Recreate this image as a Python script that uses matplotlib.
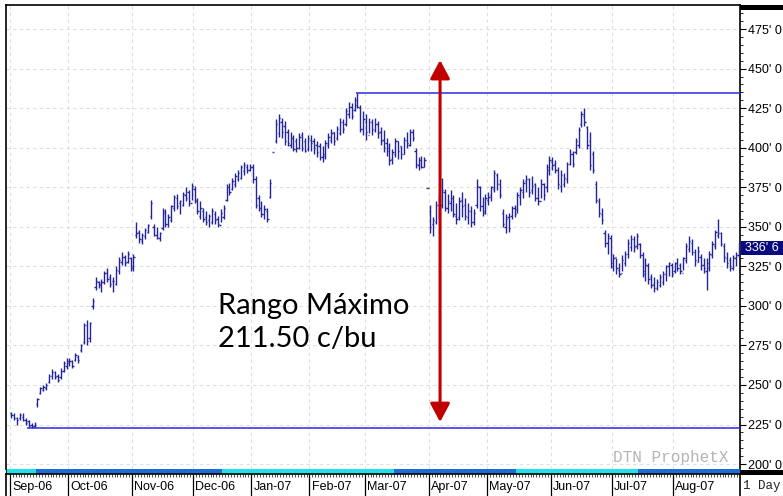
import matplotlib
matplotlib.use("Agg")
import matplotlib.pyplot as plt
import numpy as np
import pandas as pd
from matplotlib.patches import FancyArrowPatch, Rectangle

plt.rcParams['font.family'] = ['Liberation Sans', 'DejaVu Sans']

# trading days Sep-06 .. Aug-07 (exchange holidays removed)
holidays = ['2006-09-04', '2006-11-23', '2006-12-25', '2007-01-01', '2007-01-02',
            '2007-01-15', '2007-02-19', '2007-04-06', '2007-05-28', '2007-07-04']
days = pd.bdate_range('2006-09-01', '2007-08-31')
days = days[~days.isin(pd.to_datetime(holidays))]

# daily bars, c/bu, one row per month
high = [233, 232, 230, 232, 232, 229, 228, 226, 226.5, 242, 249, 250, 251, 257, 260, 259, 257, 261, 265, 267,
        267, 266, 270, 269, 276, 289, 291, 290, 305, 318, 316, 317, 322, 324, 320, 318, 325, 331, 334, 332, 335, 331,
        333, 353, 348, 346, 349, 352, 367, 352, 350, 347, 362, 361, 358, 364, 370, 371, 367, 372, 375, 373, 378,
        376, 368, 366, 362, 360, 358, 362, 360, 357, 361, 364, 377, 378, 381, 384, 386, 389, 391, 390, 390,
        390, 382, 370, 366, 364, 362, 380, 397.5, 418, 421, 419, 417, 412, 410, 408, 406, 409, 410, 406, 408,
        408, 406, 404, 403, 401, 405, 409, 412, 410, 414, 419, 418, 425, 429, 428, 432, 434.5, 427, 423,
        421, 419, 418, 419, 417, 413, 411, 406, 403, 399, 406, 404, 401, 407, 410, 412, 412, 400, 394, 395, 394, 374.75,
        364, 356, 366, 370, 381, 374, 371, 373, 370, 365, 369, 372, 368, 365, 363, 361, 380, 376, 369, 371,
        372, 376, 386, 384, 380, 361, 358, 359, 363, 364, 372, 375, 380, 383, 381, 382, 378, 375, 380, 378, 390, 395,
        394, 392, 388, 386, 384, 391, 399, 398, 406, 413, 423, 425, 414, 410, 398, 379, 368, 362, 348, 346, 345,
        333, 330, 327, 332, 335, 342, 345, 344, 346, 340, 334, 330, 327, 320, 318, 317, 320, 322, 326, 328, 327,
        328, 330, 327, 331, 340, 344, 342, 336, 338, 333, 330, 330, 335, 341, 348, 355, 347, 340, 334, 331, 332, 334, 340]
low = [229, 228, 225, 228, 227, 225, 223.5, 223, 223.2, 236, 244, 246, 247, 251, 254, 254, 252, 254, 258, 260,
       262, 261, 265, 264, 271, 276, 275, 277, 298, 310, 311, 309, 314, 315, 312, 309, 313, 320, 326, 325, 327, 322,
       322, 343, 340, 339, 342, 346, 355, 344, 342, 341, 348, 350, 350, 353, 360, 361, 358, 363, 366, 363, 367,
       365, 358, 355, 353, 351, 350, 352, 352, 350, 353, 355, 366, 370, 373, 375, 379, 380, 383, 384, 385,
       378, 362, 360, 356, 355, 353, 368, 397.0, 403, 407, 406, 402, 401, 400, 398, 397, 399, 398, 397, 398,
       398, 396, 394, 392, 391, 393, 400, 403, 402, 405, 408, 409, 414, 419, 418, 423, 425, 410, 408,
       405, 409, 408, 410, 406, 402, 397, 395, 389, 390, 394, 393, 393, 396, 400, 401, 404, 387, 386, 387, 388, 374.25,
       346, 344, 352, 355, 362, 360, 359, 360, 356, 352, 354, 356, 354, 352, 350, 351, 362, 360, 357, 358,
       364, 366, 372, 373, 368, 350, 346, 347, 355, 356, 359, 364, 368, 372, 369, 371, 366, 364, 368, 367, 372, 383,
       386, 384, 374, 372, 375, 378, 389, 388, 396, 400, 413, 414, 399, 386, 384, 365, 356, 352, 337, 333, 324,
       322, 320, 318, 322, 325, 330, 335, 334, 336, 330, 318, 316, 314, 311, 309, 310, 312, 313, 316, 319, 318,
       321, 322, 320, 323, 327, 334, 332, 325, 328, 323, 321, 310, 322, 330, 336, 343, 338, 328, 324, 322, 323, 325, 331]
opn = [232, 231, 229, 229, 230, 228, 227, 225, 224, 238, 245, 247, 248, 252, 256, 258, 256, 255, 259, 262,
       264, 265, 266, 268, 272, 277, 288, 280, 300, 312, 315, 314, 315, 321, 318, 316, 314, 322, 328, 331, 328, 330,
       325, 345, 347, 341, 344, 347, 357, 350, 345, 343, 349, 359, 352, 354, 362, 368, 365, 364, 370, 372, 365,
       374, 366, 357, 360, 356, 354, 353, 358, 355, 351, 356, 367, 375, 374, 377, 380, 381, 385, 388, 386,
       388, 380, 368, 362, 358, 360, 369, 397.25, 404, 409, 416, 414, 410, 402, 406, 404, 400, 408, 404, 399,
       405, 404, 402, 401, 394, 395, 402, 405, 410, 406, 409, 416, 415, 421, 426, 424, 427, 425, 412,
       416, 408, 416, 411, 415, 410, 405, 403, 400, 393, 396, 404, 401, 396, 405, 402, 410, 398, 389, 392, 388, 374.5,
       360, 352, 353, 364, 364, 372, 362, 365, 368, 357, 356, 367, 364, 356, 360, 353, 364, 375, 363, 359,
       367, 370, 374, 383, 377, 359, 350, 356, 357, 362, 361, 369, 372, 379, 380, 373, 377, 368, 366, 377, 375, 386,
       391, 390, 386, 376, 377, 380, 390, 396, 397, 402, 415, 420, 413, 404, 396, 377, 366, 358, 346, 340, 343,
       325, 331, 323, 321, 327, 333, 337, 342, 338, 339, 332, 322, 325, 318, 314, 311, 313, 315, 320, 325, 326,
       322, 327, 326, 321, 329, 336, 340, 334, 328, 331, 326, 322, 324, 332, 338, 345, 346, 338, 330, 329, 324, 330, 332]
close = [231, 229, 228, 231, 228, 226, 224, 224, 225, 241, 248, 249, 250, 256, 258, 255, 253, 259, 264, 265,
         265, 262, 269, 266, 275, 288, 278, 289, 303, 316, 313, 315, 321, 317, 314, 316, 323, 329, 331, 327, 333, 324,
         331, 346, 342, 345, 348, 351, 365, 345, 343, 346, 360, 352, 356, 363, 369, 363, 366, 371, 368, 366, 376,
         367, 360, 362, 355, 353, 357, 360, 354, 352, 359, 362, 375, 372, 379, 382, 384, 388, 389, 386, 388,
         380, 364, 362, 358, 361, 355, 378, 397.25, 415, 419, 410, 404, 403, 406, 399, 400, 407, 400, 398, 406,
         403, 400, 397, 394, 396, 403, 407, 409, 404, 412, 416, 412, 423, 426, 420, 430, 426, 412, 418,
         410, 416, 412, 415, 409, 404, 400, 398, 392, 397, 404, 398, 396, 405, 403, 410, 406, 390, 392, 388, 392, 374.5,
         350, 354, 364, 362, 373, 362, 366, 368, 358, 355, 366, 363, 357, 360, 353, 359, 376, 363, 360, 368,
         369, 375, 384, 377, 370, 352, 355, 349, 362, 358, 370, 373, 378, 380, 372, 376, 368, 366, 377, 370, 388, 392,
         389, 386, 377, 383, 381, 390, 396, 390, 404, 411, 421, 416, 402, 389, 386, 367, 359, 354, 340, 344, 327,
         330, 324, 320, 329, 333, 340, 342, 337, 344, 332, 320, 326, 317, 313, 311, 315, 318, 320, 325, 327, 320,
         327, 324, 322, 330, 338, 341, 334, 329, 335, 326, 324, 327, 333, 339, 347, 346, 339, 331, 327, 325, 331, 332, 336.75]

range_high = 434.5
range_low = 223.0
last_price = "336' 6"
note = "Rango Máximo\n211.50 c/bu"
# contract roll points (bar index) for the bottom strip
rolls = [8.5, 72.5, 131.5, 173.5, 215.5]
strip_cols = ['#20e0e8', '#1c6cd8']

W, H = 783, 496
fig = plt.figure(figsize=(W / 100, H / 100), dpi=100)
x0, x1 = -1.8, 250.5
y0, y1 = 193.7, 490.2

ax = fig.add_axes([6 / W, 1 - 469 / H, 734 / W, 464 / H])
ax.set_xlim(x0, x1)
ax.set_ylim(196.9, y1)
ax.set_facecolor('white')

x = np.arange(len(days))
month_start = np.where(np.r_[True, days.month[1:] != days.month[:-1]])[0]

# grid
for v in range(200, 476, 25):
    ax.axhline(v, color='#dedede', lw=0.8, ls=(0, (3, 3)), zorder=0)
for m in month_start:
    ax.axvline(m - 0.5, color='#dedede', lw=0.8, ls=(0, (3, 3)), zorder=0)

bar_col = '#24249a'
ax.vlines(x, low, high, color=bar_col, lw=1.0, zorder=3)
ax.hlines(opn, x - 0.45, x, color=bar_col, lw=1.0, zorder=3)
ax.hlines(close, x, x + 0.45, color=bar_col, lw=1.0, zorder=3)

# range lines
ax.hlines(range_high, int(np.argmax(high)) - 0.5, x1, color='#2a2ae6', lw=1.1, zorder=4)
ax.hlines(range_low, int(np.argmin(low)) - 1.5, x1, color='#2a2ae6', lw=1.1, zorder=4)

arr = FancyArrowPatch((147.4, 226.6), (147.4, 455.4), arrowstyle='<|-|>,head_length=0.75,head_width=0.4',
                      mutation_scale=15, color='#c00000', lw=2.2, zorder=5, shrinkA=0, shrinkB=0)
ax.add_patch(arr)
ax.text(71.0, 289.5, note, fontsize=21, family=['Lato', 'DejaVu Sans'], color='black',
        ha='left', va='center', linespacing=1.38, zorder=6)

ax.set_xticks([])
ax.yaxis.tick_right()
ax.set_yticks(range(200, 476, 25))
ax.set_yticks(range(200, 490, 5), minor=True)
ax.set_yticklabels([f"{v}' 0" for v in range(200, 476, 25)])
ax.tick_params(axis='y', which='major', length=4, width=0.8, labelsize=9, pad=1.5, colors='black')
ax.tick_params(axis='y', which='minor', length=2, width=0.6)
ax.spines['bottom'].set_visible(False)
for s in ['left', 'top', 'right']:
    ax.spines[s].set_linewidth(1.2)

ax.text(0.906, 0.008, 'DTN ProphetX', transform=ax.transAxes, family='Liberation Mono',
        fontsize=11.5, color='#b4b4b4', ha='center', va='bottom', zorder=2)

# contract strip
axs = fig.add_axes([6 / W, 1 - 474 / H, 734 / W, 5 / H])
axs.set_xlim(x0, x1)
axs.set_ylim(0, 1)
axs.axis('off')
edges = [x0] + rolls + [x1]
for k in range(len(edges) - 1):
    axs.axvspan(edges[k], edges[k + 1], color=strip_cols[k % 2], lw=0)
axs.axvline(x0, color='black', lw=1.2)

# date strip
axd = fig.add_axes([6 / W, 0, 734 / W, 22 / H])
axd.set_xlim(x0, x1)
axd.set_ylim(0, 1)
axd.set_xticks([])
axd.set_yticks([])
axd.spines['bottom'].set_visible(False)
for s in ['left', 'top', 'right']:
    axd.spines[s].set_linewidth(1.2)
axd.vlines(x - 0.5, 0.86, 1, color='#333333', lw=0.6)
axd.vlines(month_start - 0.5, 0, 1, color='black', lw=0.9)
for m in month_start:
    axd.text(m - 0.5 + 0.8, 0.4, days[m].strftime('%b-%y'), fontsize=9, ha='left', va='center')

# right side boxes
fig.patches.append(Rectangle((740 / W, 1 - 10 / H), 43 / W, 5 / H, transform=fig.transFigure,
                             color='black', lw=0))
fig.patches.append(Rectangle((740 / W, 1 - 475 / H), 43 / W, 5 / H, transform=fig.transFigure,
                             color='black', lw=0))
fig.patches.append(Rectangle((741 / W, 1 - 255 / H), 42 / W, 14 / H, transform=fig.transFigure,
                             color='#0a0a80', lw=0))
fig.text(762 / W, 1 - 248 / H, last_price, color='white', fontsize=9, ha='center', va='center')
fig.text(762 / W, 1 - 486 / H, '1 Day', family='Liberation Mono', fontsize=9, color='#222222',
         ha='center', va='center')

fig.savefig('out.png', dpi=100)
